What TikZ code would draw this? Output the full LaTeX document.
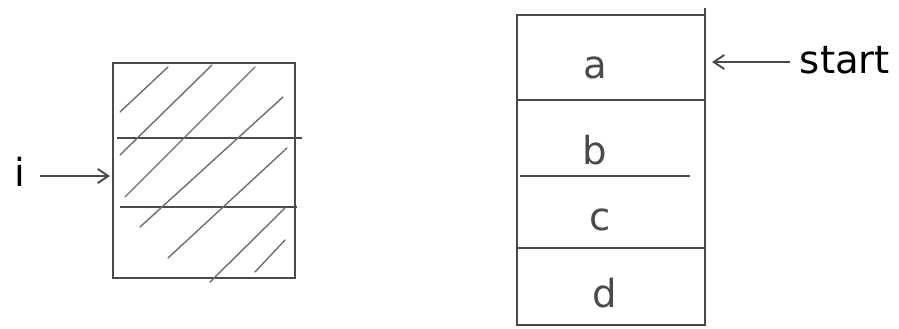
\documentclass[tikz,border=0pt]{standalone}
\usepackage{fontspec}
\setsansfont{DejaVu Sans}
\usetikzlibrary{positioning,calc,arrows.meta}
\definecolor{pencil}{HTML}{4A4A4A}

\begin{document}
\begin{tikzpicture}[x=0.02cm, y=-0.02cm,
  frame/.style={draw=pencil, line width=1.1pt},
  hatch/.style={draw=pencil!80, line width=0.8pt, line cap=round},
  cell/.style={font=\sffamily\fontsize{22}{24}\selectfont\color{pencil}, inner sep=0pt},
  lbl/.style={font=\sffamily\fontsize{22}{24}\selectfont, inner sep=0pt},
  edge/.style={line width=1.1pt, pencil, -{Straight Barb[length=6pt, width=8pt]}},
]
\useasboundingbox (0,0) rectangle (899,328);

% left box, shaded
\draw[frame] (113,63) rectangle (295,278);
\draw[frame] (117,138) -- (302,138);
\draw[frame] (120,207) -- (297,207);
\foreach \xa/\ya/\xb/\yb in {120/112/168/67, 120/155/212/65, 125/197/255/67,
    140/227/283/97, 168/258/287/148, 210/282/285/208, 255/272/285/240}
  \draw[hatch] (\xa,\ya) -- (\xb,\yb);

% right box with four cells
\draw[frame] (517,15) rectangle (705,325);
\draw[frame] (705,15) -- (705,8);
\draw[frame] (517,100) -- (705,100);
\draw[frame] (520,176) -- (690,176);
\draw[frame] (517,248) -- (705,248);
\node[cell] (ca) at (595,68)  {a};
\node[cell] (cb) at (595,150) {b};
\node[cell] (cc) at (600,220) {c};
\node[cell] (cd) at (605,293) {d};

% pointers
\node[lbl] (idx) at (20,172) {i};
\coordinate (iend) at (110,176);
\draw[edge] (idx.east) ++(14,4) -- (iend);

\node[lbl] (start) at (845,60) {start};
\coordinate (send) at (712,62);
\draw[edge] (start.west) ++(-10,2) -- (send);
\end{tikzpicture}
\end{document}
